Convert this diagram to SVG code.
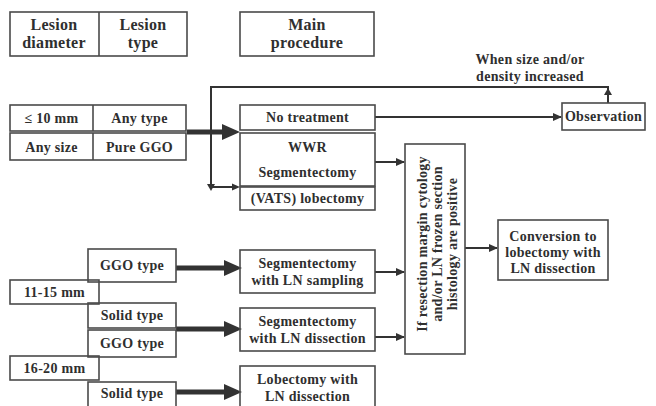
<svg xmlns="http://www.w3.org/2000/svg" width="656" height="406" viewBox="0 0 656 406">
<style>
.b{fill:none;stroke:#4a4a4a;stroke-width:1.6}
.t{font-family:"Liberation Serif","Times New Roman",serif;font-weight:bold;font-size:14px;letter-spacing:0.3px;fill:#2f2f2f;text-anchor:middle}
.h{font-size:16px}
.ln{fill:none;stroke:#333;stroke-width:2}
.tk{fill:none;stroke:#333;stroke-width:5}
.hd{fill:#333}
</style>
<defs>
<marker id="sm" markerUnits="userSpaceOnUse" markerWidth="9" markerHeight="8" refX="8" refY="4" orient="auto"><path d="M0,0 L9,4 L0,8 z" fill="#333"/></marker>
<marker id="bg" markerUnits="userSpaceOnUse" markerWidth="18" markerHeight="16" refX="0" refY="8" orient="auto"><path d="M0,0 L18,8 L0,16 z" fill="#333"/></marker>
</defs>
<rect width="656" height="406" fill="#fff"/>

<g id="connectors">
<path class="ln" d="M608,103 V87 H211 V187 H237"/>
<path class="hd" d="M604,95 L608,88 L612,95 z"/>
<path class="hd" d="M207,184 L211,191 L215,184 z"/>
<path class="hd" d="M232,183.5 L240,187 L232,190.5 z"/>
<line class="tk" x1="187" y1="132" x2="222" y2="132" marker-end="url(#bg)"/>
<line class="ln" x1="375" y1="117" x2="561" y2="117" marker-end="url(#sm)"/>
<line class="ln" x1="375" y1="162" x2="404" y2="162" marker-end="url(#sm)"/>
<line class="ln" x1="375" y1="272" x2="404" y2="272" marker-end="url(#sm)"/>
<line class="ln" x1="375" y1="337" x2="404" y2="337" marker-end="url(#sm)"/>
<line class="ln" x1="465" y1="248" x2="497" y2="248" marker-end="url(#sm)"/>
<line class="tk" x1="176" y1="268" x2="224" y2="268" marker-end="url(#bg)"/>
<line class="tk" x1="176" y1="329" x2="224" y2="329" marker-end="url(#bg)"/>
<line class="tk" x1="176" y1="392" x2="224" y2="392" marker-end="url(#bg)"/>
</g>

<g id="header-lesion">
<rect class="b" x="10" y="12" width="177" height="44"/>
<line class="b" x1="99" y1="12" x2="99" y2="56"/>
<text class="t h" x="54" y="30">Lesion</text>
<text class="t h" x="54" y="48">diameter</text>
<text class="t h" x="143" y="30">Lesion</text>
<text class="t h" x="143" y="48">type</text>
</g>
<g id="header-procedure">
<rect class="b" x="240" y="12" width="134" height="44"/>
<text class="t h" x="307" y="30">Main</text>
<text class="t h" x="307" y="48">procedure</text>
</g>
<g id="when-label">
<text class="t" x="530" y="64">When size and/or</text>
<text class="t" x="530" y="81">density increased</text>
</g>

<g id="row-10mm">
<rect class="b" x="10" y="105" width="176" height="26"/>
<line class="b" x1="93" y1="105" x2="93" y2="131"/>
<text class="t" x="51.5" y="122.5">≤ 10 mm</text>
<text class="t" x="139.5" y="122.5">Any type</text>
</g>
<g id="row-anysize">
<rect class="b" x="10" y="133" width="176" height="27"/>
<line class="b" x1="93" y1="133" x2="93" y2="160"/>
<text class="t" x="51.5" y="151.5">Any size</text>
<text class="t" x="139.5" y="151.5">Pure GGO</text>
</g>

<g id="no-treatment">
<rect class="b" x="240" y="105" width="135" height="25"/>
<text class="t" x="307.5" y="122">No treatment</text>
</g>
<g id="wwr-seg">
<rect class="b" x="240" y="133" width="135" height="53"/>
<text class="t" x="307.5" y="152">WWR</text>
<text class="t" x="307.5" y="177">Segmentectomy</text>
</g>
<g id="vats">
<rect class="b" x="240" y="187" width="135" height="23"/>
<text class="t" x="307.5" y="203">(VATS) lobectomy</text>
</g>
<g id="observation">
<rect class="b" x="562" y="103" width="83" height="27"/>
<text class="t" x="603.5" y="121">Observation</text>
</g>

<g id="condition">
<rect class="b" x="405" y="144" width="60" height="210"/>
<g transform="translate(437,244) rotate(-90)">
<text class="t" x="0" y="-10.5">If resection margin cytology</text>
<text class="t" x="0" y="4.5">and/or LN frozen section</text>
<text class="t" x="0" y="19.5">histology are positive</text>
</g>
</g>
<g id="conversion">
<rect class="b" x="498" y="220" width="110" height="60"/>
<text class="t" x="553" y="241">Conversion to</text>
<text class="t" x="553" y="257">lobectomy with</text>
<text class="t" x="553" y="273">LN dissection</text>
</g>

<g id="ggo-1">
<rect class="b" x="88" y="249" width="88" height="33"/>
<text class="t" x="132" y="270">GGO type</text>
</g>
<g id="d11-15">
<rect class="b" x="10" y="280" width="89" height="24"/>
<text class="t" x="54.5" y="296.5">11-15 mm</text>
</g>
<g id="solid-1">
<rect class="b" x="88" y="303" width="88" height="25"/>
<text class="t" x="132" y="320">Solid type</text>
</g>
<g id="ggo-2">
<rect class="b" x="88" y="330" width="88" height="27"/>
<text class="t" x="132" y="348">GGO type</text>
</g>
<g id="d16-20">
<rect class="b" x="10" y="356" width="89" height="24"/>
<text class="t" x="54.5" y="372.5">16-20 mm</text>
</g>
<g id="solid-2">
<rect class="b" x="88" y="382" width="88" height="26"/>
<text class="t" x="132" y="398">Solid type</text>
</g>

<g id="seg-sampling">
<rect class="b" x="240" y="250" width="135" height="43"/>
<text class="t" x="307.5" y="268">Segmentectomy</text>
<text class="t" x="307.5" y="285">with LN sampling</text>
</g>
<g id="seg-dissection">
<rect class="b" x="240" y="308" width="135" height="43"/>
<text class="t" x="307.5" y="326">Segmentectomy</text>
<text class="t" x="307.5" y="343">with LN dissection</text>
</g>
<g id="lobectomy">
<rect class="b" x="240" y="366" width="135" height="42"/>
<text class="t" x="307.5" y="384">Lobectomy with</text>
<text class="t" x="307.5" y="401">LN dissection</text>
</g>
</svg>
